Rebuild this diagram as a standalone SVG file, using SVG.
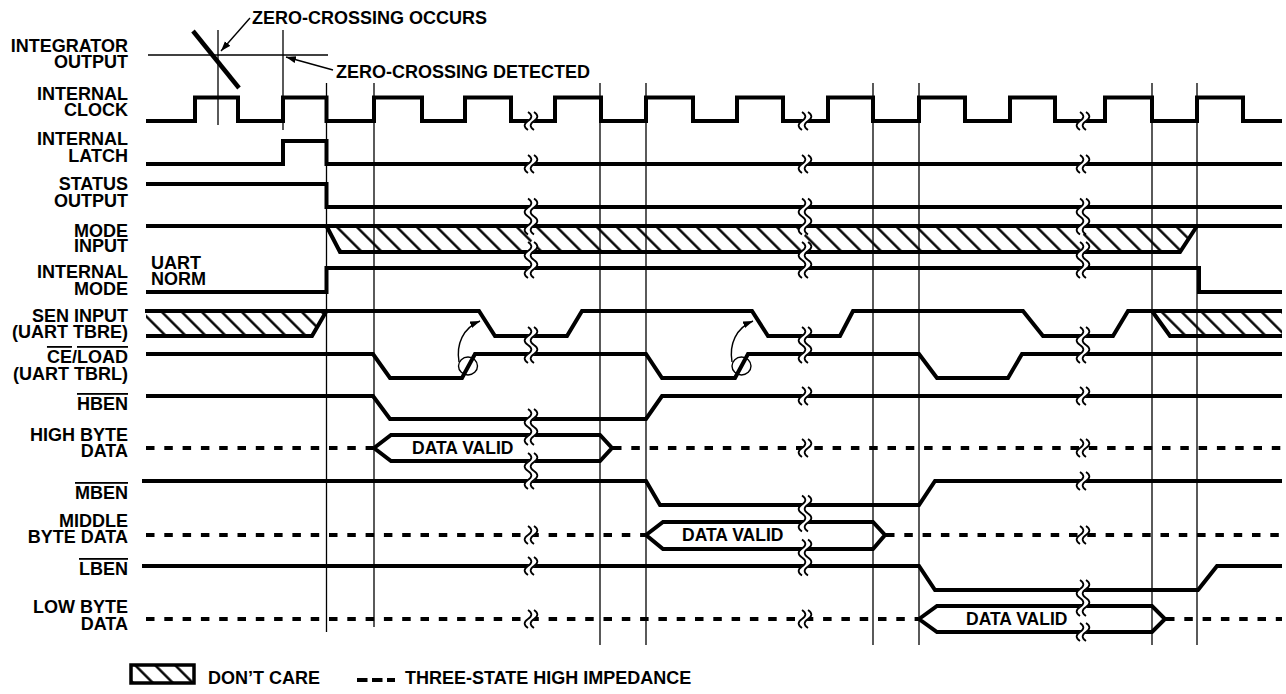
<svg xmlns="http://www.w3.org/2000/svg" xmlns:xlink="http://www.w3.org/1999/xlink" width="1286" height="694" viewBox="0 0 1286 694">
<style>
.w{fill:none;stroke:#000;stroke-width:4;stroke-linejoin:miter;stroke-miterlimit:6}
.d{fill:none;stroke:#000;stroke-width:4;stroke-dasharray:8.5 9.8}
.t{fill:none;stroke:#000;stroke-width:1.3}
.lbl{font-family:"Liberation Sans",Arial,Helvetica,sans-serif;font-weight:bold;font-size:18px;text-anchor:end;fill:#000}
.txt{font-family:"Liberation Sans",Arial,Helvetica,sans-serif;font-weight:bold;font-size:18px;fill:#000}
.dv{font-family:"Liberation Sans",Arial,Helvetica,sans-serif;font-weight:bold;font-size:17.5px;fill:#000}
.ov{text-decoration:overline}
.h{fill:url(#hatch);stroke:none}
</style>
<defs>
<pattern id="hatch" patternUnits="userSpaceOnUse" width="14.14" height="14.14" patternTransform="rotate(-45)">
<line x1="7" y1="-1" x2="7" y2="15.14" stroke="#000" stroke-width="2.4"/>
</pattern>
<marker id="ah" markerUnits="userSpaceOnUse" markerWidth="11" markerHeight="8" refX="10" refY="3.5" orient="auto">
<path d="M0,0 L10,3.5 L0,7 Z" fill="#000"/>
</marker>
<path id="s1" d="M0,-9 c4.5,3 4.5,6 0,9 c-4.5,3 -4.5,6 0,9"/>
<path id="s2" d="M0,-18 c4.5,3 4.5,6 0,9 c-4.5,3 -4.5,6 0,9 c4.5,3 4.5,6 0,9 c-4.5,3 -4.5,6 0,9"/>
<g id="b1">
<use xlink:href="#s1" fill="none" stroke="#fff" stroke-width="5"/>
<use xlink:href="#s1" x="-3" fill="none" stroke="#000" stroke-width="1.8"/>
<use xlink:href="#s1" x="3" fill="none" stroke="#000" stroke-width="1.8"/>
</g>
<g id="b2">
<use xlink:href="#s2" fill="none" stroke="#fff" stroke-width="5"/>
<use xlink:href="#s2" x="-3" fill="none" stroke="#000" stroke-width="1.8"/>
<use xlink:href="#s2" x="3" fill="none" stroke="#000" stroke-width="1.8"/>
</g>
</defs>
<rect x="0" y="0" width="1286" height="694" fill="#fff"/>

<!-- hatched don't-care areas -->
<g id="hatch-areas">
<polygon class="h" points="326,226 1197,226 1180,252 340,252"/>
<polygon class="h" points="146,311 326,311 312,336 146,336"/>
<polygon class="h" points="1152,311 1282,311 1282,336 1170,336"/>
</g>

<!-- timing reference lines -->
<g id="gridlines" class="t">
<line x1="218" y1="30" x2="218" y2="125"/>
<line x1="283" y1="30" x2="283" y2="130"/>
<line x1="326.5" y1="83" x2="326.5" y2="632"/>
<line x1="374" y1="83" x2="374" y2="627"/>
<line x1="600" y1="83" x2="600" y2="645"/>
<line x1="646" y1="83" x2="646" y2="645"/>
<line x1="873" y1="83" x2="873" y2="645"/>
<line x1="919" y1="83" x2="919" y2="645"/>
<line x1="1152" y1="83" x2="1152" y2="645"/>
<line x1="1197" y1="83" x2="1197" y2="645"/>
</g>

<g id="integrator-output">
<text class="lbl" x="128" y="52">INTEGRATOR</text>
<text class="lbl" x="128" y="68">OUTPUT</text>
<line class="t" x1="148" y1="55" x2="328" y2="55"/>
<line x1="193" y1="31" x2="239" y2="88" stroke="#000" stroke-width="4.5"/>
<text class="txt" x="252" y="24">ZERO-CROSSING OCCURS</text>
<text class="txt" x="336" y="78">ZERO-CROSSING DETECTED</text>
</g>

<g id="internal-clock">
<text class="lbl" x="128" y="100">INTERNAL</text>
<text class="lbl" x="128" y="116">CLOCK</text>
<path class="w" d="M146,121 H195 V97.5 H238 V121 H283 V97.5 H326.5 V121 H374 V97.5 H422 V121 H465 V97.5 H511 V121 H555 V97.5 H601 V121 H646 V97.5 H693 V121 H737 V97.5 H783 V121 H828 V97.5 H873 V121 H919 V97.5 H965 V121 H1010 V97.5 H1055 V121 H1105 V97.5 H1152 V121 H1197 V97.5 H1243 V121 H1282"/>
</g>

<g id="internal-latch">
<text class="lbl" x="128" y="145">INTERNAL</text>
<text class="lbl" x="128" y="162">LATCH</text>
<path class="w" d="M146,164 H283 V141 H326.5 V164 H1282"/>
</g>

<g id="status-output">
<text class="lbl" x="128" y="190">STATUS</text>
<text class="lbl" x="128" y="207">OUTPUT</text>
<path class="w" d="M146,184 H326.5 V207 H1282"/>
</g>

<g id="mode-input">
<text class="lbl" x="128" y="237">MODE</text>
<text class="lbl" x="128" y="252">INPUT</text>
<path class="w" d="M146,226 H1282"/>
<path class="w" d="M326.5,226 L340,252 H1180 L1197,226"/>
</g>

<g id="internal-mode">
<text class="lbl" x="128" y="278">INTERNAL</text>
<text class="lbl" x="128" y="295">MODE</text>
<text class="txt" x="151" y="269" font-size="15.5">UART</text>
<text class="txt" x="151" y="285" font-size="15.5">NORM</text>
<path class="w" d="M146,292 H326.5 V268 H1199 V292 H1282"/>
</g>

<g id="sen-input">
<text class="lbl" x="128" y="322">SEN INPUT</text>
<text class="lbl" x="128" y="338">(UART TBRE)</text>
<path class="w" d="M145,311 H479 L495,336 H567 L582,311 H752 L768,336 H840 L853,311 H1023 L1043,336 H1113 L1128,311 H1282"/>
<path class="w" d="M146,336 H312 L326.5,311"/>
<path class="w" d="M1152,311 L1170,336 H1282"/>
</g>

<g id="ce-load">
<text class="lbl" x="128" y="363"><tspan class="ov">CE</tspan>/<tspan class="ov">LOAD</tspan></text>
<text class="lbl" x="128" y="380">(UART TBRL)</text>
<path class="w" d="M146,354 H373 L390,378 H462 L475,354 H646 L662,378 H735 L748,354 H919 L937,378 H1008 L1022,354 H1282"/>
</g>

<g id="hben">
<text class="lbl" x="128" y="410"><tspan class="ov">HBEN</tspan></text>
<path class="w" d="M146,396 H373 L390,419 H646 L662,396 H1282"/>
</g>

<g id="high-byte-data">
<text class="lbl" x="128" y="441">HIGH BYTE</text>
<text class="lbl" x="128" y="457">DATA</text>
<path class="d" d="M146,448 H373"/>
<path class="w" d="M374,448 L391,435 H600 L612,448 L600,461 H391 Z"/>
<path class="d" d="M613,448 H1282"/>
<text class="dv" x="412" y="454">DATA VALID</text>
</g>

<g id="mben">
<text class="lbl" x="128" y="499"><tspan class="ov">MBEN</tspan></text>
<path class="w" d="M142,481 H646 L660,505 H919 L935,481 H1282"/>
</g>

<g id="middle-byte-data">
<text class="lbl" x="128" y="527">MIDDLE</text>
<text class="lbl" x="128" y="543">BYTE DATA</text>
<path class="d" d="M146,535 H645"/>
<path class="w" d="M646,535 L663,522 H873 L885,535 L873,549 H663 Z"/>
<path class="d" d="M886,535 H1282"/>
<text class="dv" x="682" y="541">DATA VALID</text>
</g>

<g id="lben">
<text class="lbl" x="128" y="575"><tspan class="ov">LBEN</tspan></text>
<path class="w" d="M142,566 H919 L935,590 H1198 L1217,566 H1282"/>
</g>

<g id="low-byte-data">
<text class="lbl" x="128" y="613">LOW BYTE</text>
<text class="lbl" x="128" y="630">DATA</text>
<path class="d" d="M146,619 H918"/>
<path class="w" d="M919,619 L937,606 H1152 L1165,619 L1152,632 H937 Z"/>
<path class="d" d="M1166,619 H1282"/>
<text class="dv" x="966" y="625">DATA VALID</text>
</g>

<!-- time breaks -->
<g id="breaks">
<use xlink:href="#b1" x="531" y="121"/>
<use xlink:href="#b1" x="531" y="164"/>
<use xlink:href="#b2" x="531" y="216.5"/>
<use xlink:href="#b2" x="531" y="260"/>
<use xlink:href="#b2" x="531" y="345"/>
<use xlink:href="#b2" x="531" y="427"/>
<use xlink:href="#b2" x="531" y="471"/>
<use xlink:href="#b1" x="531" y="535"/>
<use xlink:href="#b1" x="531" y="566"/>
<use xlink:href="#b1" x="531" y="619"/>

<use xlink:href="#b1" x="805" y="121"/>
<use xlink:href="#b1" x="805" y="164"/>
<use xlink:href="#b2" x="805" y="216.5"/>
<use xlink:href="#b2" x="805" y="260"/>
<use xlink:href="#b2" x="805" y="345"/>
<use xlink:href="#b1" x="805" y="396"/>
<use xlink:href="#b1" x="805" y="448"/>
<use xlink:href="#b2" x="805" y="513.5"/>
<use xlink:href="#b2" x="805" y="557.5"/>
<use xlink:href="#b1" x="805" y="619"/>

<use xlink:href="#b1" x="1083" y="121"/>
<use xlink:href="#b1" x="1083" y="164"/>
<use xlink:href="#b2" x="1083" y="216.5"/>
<use xlink:href="#b2" x="1083" y="260"/>
<use xlink:href="#b2" x="1083" y="345"/>
<use xlink:href="#b1" x="1083" y="396"/>
<use xlink:href="#b1" x="1083" y="448"/>
<use xlink:href="#b1" x="1083" y="481"/>
<use xlink:href="#b1" x="1083" y="535"/>
<use xlink:href="#b2" x="1083" y="598"/>
<use xlink:href="#b1" x="1083" y="632"/>
</g>

<!-- connectors -->
<g id="connectors" fill="none" stroke="#000" stroke-width="1.4">
<path d="M250,18 L221,51" marker-end="url(#ah)"/>
<path d="M333,70 L286,57" marker-end="url(#ah)"/>
<ellipse cx="468" cy="366" rx="9.5" ry="9"/>
<path d="M459,362 C456,344 463,328 480,321" marker-end="url(#ah)"/>
<ellipse cx="741.5" cy="366" rx="9.5" ry="9"/>
<path d="M732,362 C729,344 736,328 753,321" marker-end="url(#ah)"/>
</g>

<g id="legend">
<rect x="131" y="665" width="63" height="18" fill="url(#hatch)" stroke="#000" stroke-width="3.5"/>
<text class="txt" x="208" y="684">DON’T CARE</text>
<path d="M357,680 H395" fill="none" stroke="#000" stroke-width="4" stroke-dasharray="10.5 4.5 10.5 4.5 8 50"/>
<text class="txt" x="405" y="684">THREE-STATE HIGH IMPEDANCE</text>
</g>
</svg>
